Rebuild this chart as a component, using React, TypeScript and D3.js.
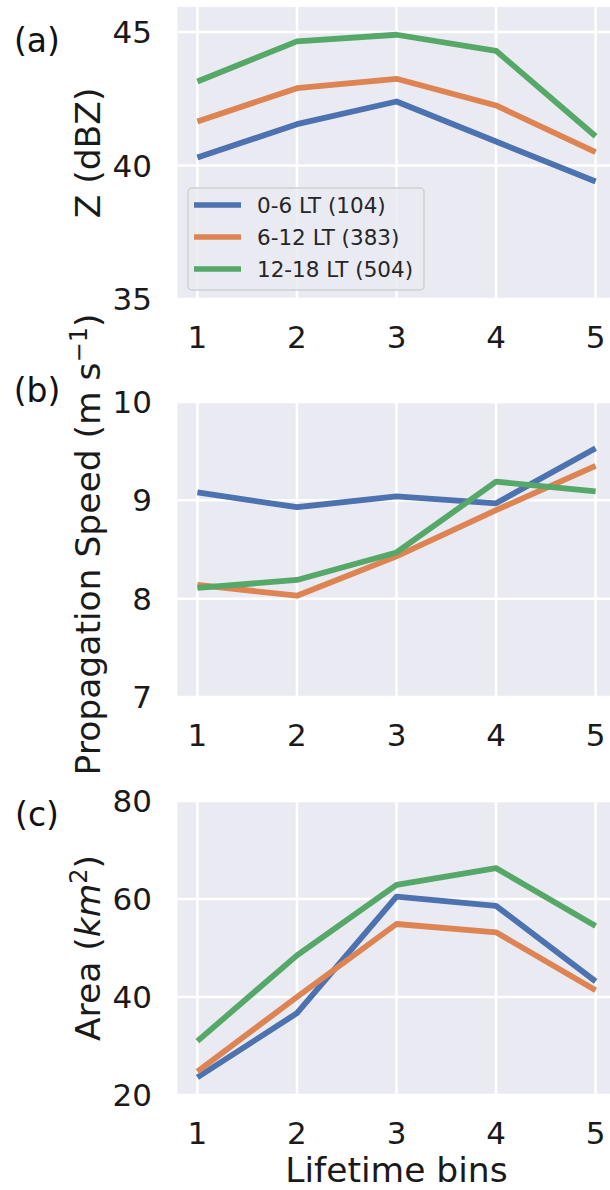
import React from "react";
import * as d3 from "d3";

const bins = [1, 2, 3, 4, 5];
const seriesNames = ["0-6 LT (104)", "6-12 LT (383)", "12-18 LT (504)"];
const colors = ["#4c72b0", "#dd8452", "#55a868"];

// Panel (a): Z (dBZ)
const zBlue = [40.3, 41.55, 42.4, 40.9, 39.4];
const zOrange = [41.65, 42.9, 43.25, 42.25, 40.5];
const zGreen = [43.15, 44.65, 44.9, 44.3, 41.1];
const zTicks = [35, 40, 45];

// Panel (b): Propagation speed
const sBlue = [9.08, 8.93, 9.04, 8.97, 9.53];
const sOrange = [8.14, 8.03, 8.43, 8.9, 9.35];
const sGreen = [8.11, 8.19, 8.47, 9.19, 9.09];
const sTicks = [7, 8, 9, 10];

// Panel (c): Area
const aBlue = [23.6, 36.7, 60.5, 58.6, 43.2];
const aOrange = [24.8, 40.0, 54.9, 53.2, 41.4];
const aGreen = [31.0, 48.5, 62.9, 66.3, 54.5];
const aTicks = [20, 40, 60, 80];

const xTickLabels = ["1", "2", "3", "4", "5"];

const FONT = "DejaVu Sans, sans-serif";
const BG = "#eaeaf2";

const x = d3.scaleLinear().domain([0.8, 5.2]).range([177.5, 615.5]);

type PanelProps = {
  top: number;
  bottom: number;
  domain: [number, number];
  ticks: number[];
  series: number[][];
  tag: string;
  tagY: number;
  ylabel: React.ReactNode;
  ylabelShift?: number;
  legend?: boolean;
};

function Panel({ top, bottom, domain, ticks, series, tag, tagY, ylabel, ylabelShift = 0, legend }: PanelProps) {
  const y = d3.scaleLinear().domain(domain).range([bottom, top]);
  const line = d3
    .line<number>()
    .x((_, i) => x(bins[i]))
    .y((d) => y(d));
  const left = x(0.8);
  const right = x(5.2);
  const midY = (top + bottom) / 2 + ylabelShift;
  return (
    <g>
      <rect x={left} y={top} width={right - left} height={bottom - top} fill={BG} />
      {ticks.map((t) => (
        <line key={"gy" + t} x1={left} x2={right} y1={y(t)} y2={y(t)} stroke="#ffffff" strokeWidth={2.5} />
      ))}
      {bins.map((b) => (
        <line key={"gx" + b} x1={x(b)} x2={x(b)} y1={top} y2={bottom} stroke="#ffffff" strokeWidth={2.5} />
      ))}
      {series.map((s, i) => (
        <path
          key={"s" + i}
          d={line(s) || ""}
          fill="none"
          stroke={colors[i]}
          strokeWidth={5.8}
          strokeLinejoin="round"
          strokeLinecap="butt"
        />
      ))}
      {ticks.map((t) => (
        <text
          key={"ty" + t}
          x={152}
          y={y(t)}
          textAnchor="end"
          dominantBaseline="central"
          fontFamily={FONT}
          fontSize={31}
          fill="#1a1a1a"
        >
          {t}
        </text>
      ))}
      {bins.map((b, i) => (
        <text
          key={"tx" + b}
          x={x(b)}
          y={bottom + 38}
          textAnchor="middle"
          dominantBaseline="central"
          fontFamily={FONT}
          fontSize={31}
          fill="#1a1a1a"
        >
          {xTickLabels[i]}
        </text>
      ))}
      <text
        transform={`translate(100, ${midY}) rotate(-90)`}
        textAnchor="middle"
        fontFamily={FONT}
        fontSize={34.5}
        fill="#1a1a1a"
      >
        {ylabel}
      </text>
      <text x={37} y={tagY} textAnchor="middle" dominantBaseline="central" fontFamily={FONT} fontSize={33} fill="#111">
        {tag}
      </text>
      {legend && (
        <g>
          <rect x={188} y={188} width={236} height={102} rx={4} fill={BG} fillOpacity={0.8} stroke="#cfcfd4" strokeWidth={1.5} />
          {seriesNames.map((n, i) => (
            <g key={"lg" + i}>
              <line x1={194} x2={241} y1={205 + i * 32} y2={205 + i * 32} stroke={colors[i]} strokeWidth={5.5} />
              <text x={257} y={205 + i * 32} dominantBaseline="central" fontFamily={FONT} fontSize={21.5} fill="#262626">
                {n}
              </text>
            </g>
          ))}
        </g>
      )}
    </g>
  );
}

export default function App() {
  return (
    <svg
      width={610}
      height={1190}
      style={{ position: "absolute", left: 0, top: 0, background: "#ffffff" }}
    >
      <Panel
        top={7}
        bottom={299}
        domain={[35, 45.94]}
        ticks={zTicks}
        series={[zBlue, zOrange, zGreen]}
        tag="(a)"
        tagY={40}
        ylabel="Z (dBZ)"
        legend
      />
      <Panel
        top={402}
        bottom={697}
        domain={[7, 10]}
        ticks={sTicks}
        series={[sBlue, sOrange, sGreen]}
        tag="(b)"
        tagY={390}
        ylabelShift={-5}
        ylabel={
          <>
            Propagation Speed (m s
            <tspan dy={-13} fontSize={24}>
              −1
            </tspan>
            <tspan dy={13}>)</tspan>
          </>
        }
      />
      <Panel
        top={801}
        bottom={1095}
        domain={[20, 80]}
        ticks={aTicks}
        series={[aBlue, aOrange, aGreen]}
        tag="(c)"
        tagY={814}
        ylabel={
          <>
            Area (<tspan fontStyle="italic">km</tspan>
            <tspan dy={-13} fontSize={24}>
              2
            </tspan>
            <tspan dy={13}>)</tspan>
          </>
        }
      />
      <text x={x(3)} y={1182} textAnchor="middle" fontFamily={FONT} fontSize={34.5} fill="#1a1a1a">
        Lifetime bins
      </text>
    </svg>
  );
}
